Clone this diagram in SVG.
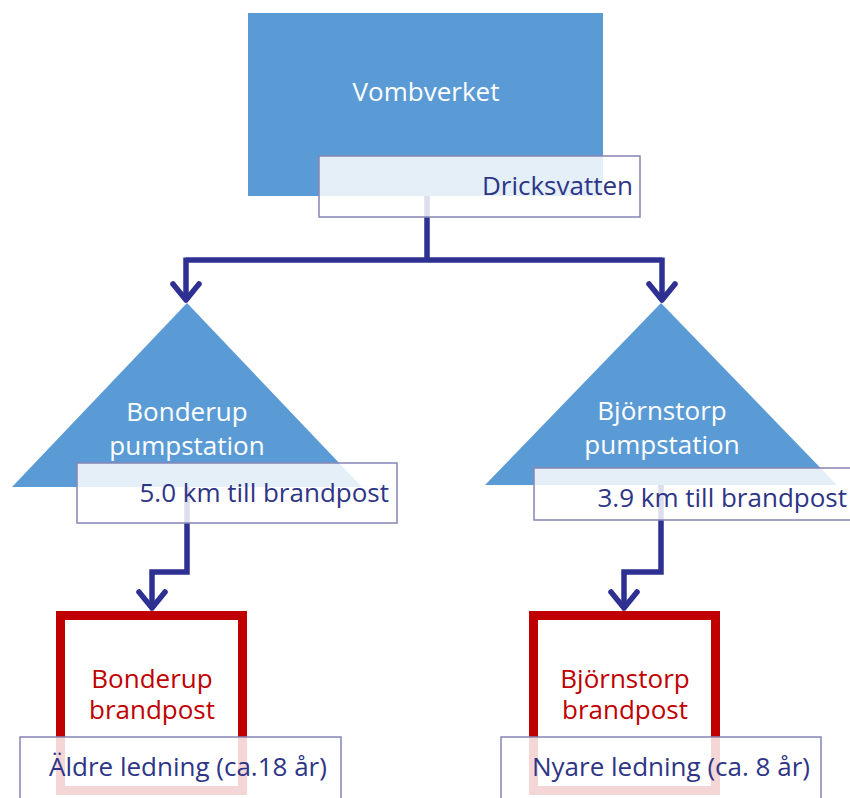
<svg xmlns="http://www.w3.org/2000/svg" width="850" height="798" viewBox="0 0 850 798">
<defs>
<style>
text { font-family: "Open Sans", "Liberation Sans", sans-serif; font-size: 26px; }
.shape { fill: #5b9bd5; }
.wt { fill: #ffffff; text-anchor: middle; }
.lbl { fill: #ffffff; fill-opacity: 0.84; stroke: #8585b5; stroke-width: 1.5; }
.lt { fill: #2e3586; }
.post { fill: none; stroke: #c00000; stroke-width: 9; }
.rt { fill: #c00000; text-anchor: middle; }
.conn { fill: none; stroke: #2e3192; stroke-width: 5.5; stroke-linejoin: miter; }
.head { fill: none; stroke: #2e3192; stroke-width: 5.5; stroke-linecap: round; stroke-linejoin: round; }
</style>
</defs>
<rect width="850" height="798" fill="#ffffff"/>
<g id="connectors">
<path class="conn" d="M427,196 V260 M186,260 H662 M186,257.5 V298 M662,257.5 V298"/>
<path class="head" d="M173,284 L186,300 L199,284 M649,284 L662,300 L675,284"/>
<path class="conn" d="M187,487 V572 H152 V606 M661,485 V572 H624 V606"/>
<path class="head" d="M139,592 L152,608 L165,592 M611,592 L624,608 L637,592"/>
</g>
<g id="vombverket">
<rect class="shape" x="248" y="13" width="355" height="183"/>
<text class="wt" x="426" y="101">Vombverket</text>
<rect class="lbl" x="319" y="156" width="321" height="61"/>
<text class="lt" x="633" y="195" text-anchor="end">Dricksvatten</text>
</g>
<g id="bonderup-pumpstation">
<polygon class="shape" points="187,303 362,487 12,487"/>
<text class="wt" x="187" y="421">Bonderup</text>
<text class="wt" x="187" y="455">pumpstation</text>
<rect class="lbl" x="77" y="463" width="320" height="60"/>
<text class="lt" x="389" y="502" text-anchor="end">5.0 km till brandpost</text>
</g>
<g id="bjornstorp-pumpstation">
<polygon class="shape" points="661,303 837,485 485,485"/>
<text class="wt" x="662" y="420">Björnstorp</text>
<text class="wt" x="662" y="454">pumpstation</text>
<rect class="lbl" x="534" y="468" width="320" height="52"/>
<text class="lt" x="847" y="507" text-anchor="end">3.9 km till brandpost</text>
</g>
<g id="bonderup-brandpost">
<rect class="post" x="60.5" y="615.5" width="182" height="175"/>
<text class="rt" x="152" y="688">Bonderup</text>
<text class="rt" x="152" y="719">brandpost</text>
<rect class="lbl" x="20" y="737" width="321" height="70"/>
<text class="lt" x="49" y="776">Äldre ledning (ca.18 år)</text>
</g>
<g id="bjornstorp-brandpost">
<rect class="post" x="533.5" y="615.5" width="182" height="175"/>
<text class="rt" x="625" y="688">Björnstorp</text>
<text class="rt" x="625" y="719">brandpost</text>
<rect class="lbl" x="501" y="737" width="320" height="70"/>
<text class="lt" x="532" y="776">Nyare ledning (ca. 8 år)</text>
</g>
</svg>
